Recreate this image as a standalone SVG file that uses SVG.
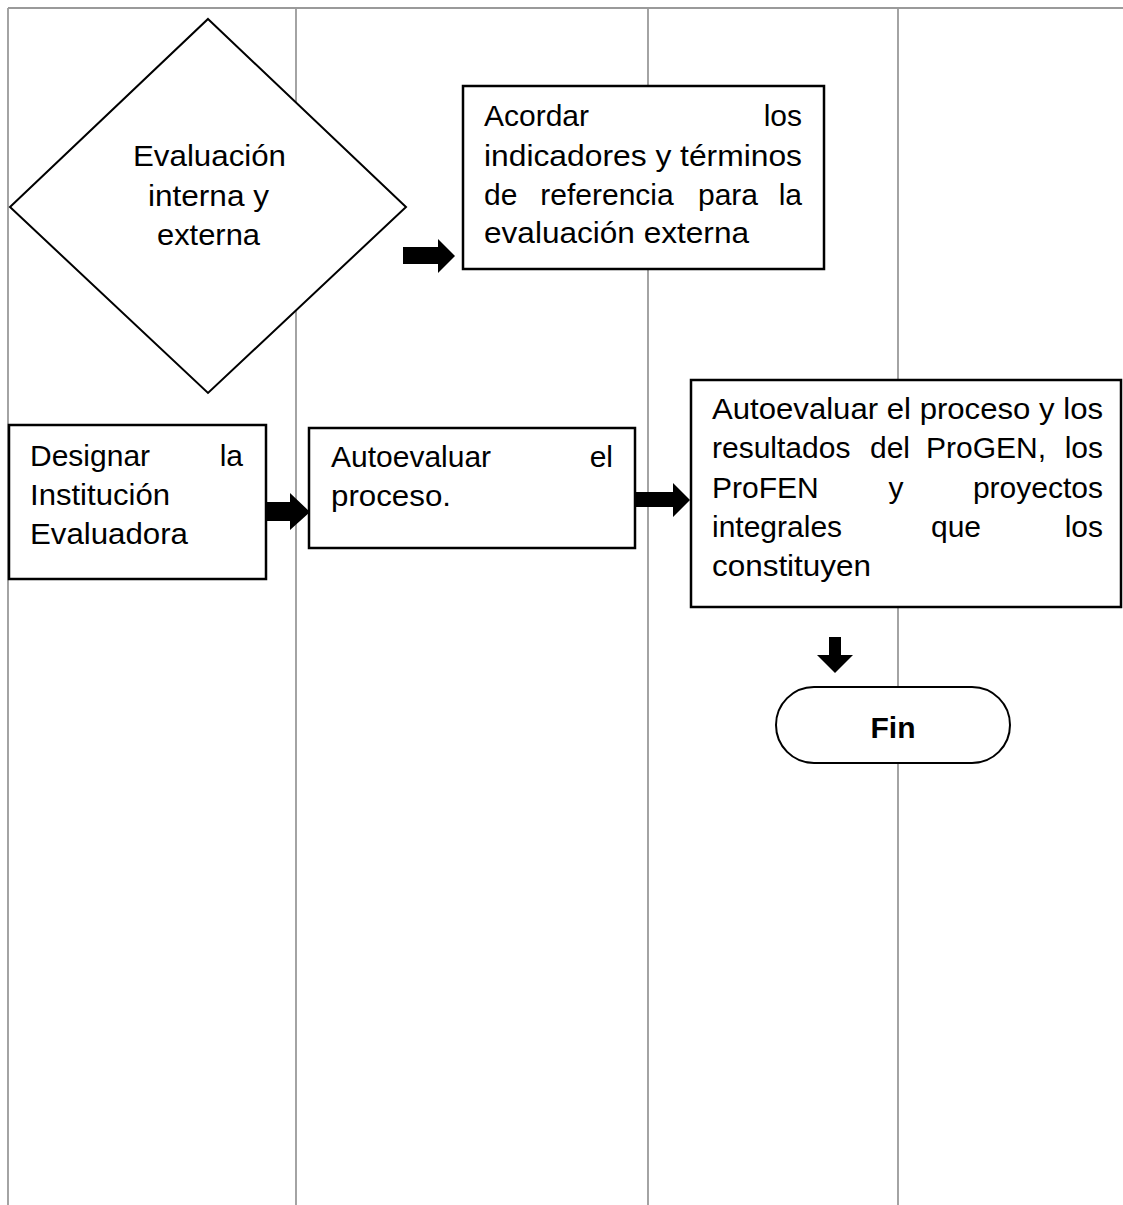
<svg xmlns="http://www.w3.org/2000/svg" width="1123" height="1205" viewBox="0 0 1123 1205">
<style>
.grid{stroke:#9a9a9a;stroke-width:1.8;fill:none}
.box{fill:#fff;stroke:#000;stroke-width:2.5}
.shape{fill:#fff;stroke:#000;stroke-width:2}
.t{font-family:"Liberation Sans",Arial,sans-serif;font-size:30px;fill:#000}
.b{font-weight:bold}
.arrow{fill:#000;stroke:none}
</style>
<rect x="0" y="0" width="1123" height="1205" fill="#fff"/>
<g id="lanes">
<line class="grid" x1="8" y1="8" x2="1123" y2="8"/>
<line class="grid" x1="8" y1="8" x2="8" y2="1205"/>
<line class="grid" x1="296" y1="8" x2="296" y2="1205"/>
<line class="grid" x1="648" y1="8" x2="648" y2="1205"/>
<line class="grid" x1="898" y1="8" x2="898" y2="1205"/>
</g>
<g id="connectors">
<polygon class="arrow" points="403,247 438,247 438,239 455,256 438,273 438,264 403,264"/>
<polygon class="arrow" points="266,502 290,502 290,493 310,512 290,530 290,521 266,521"/>
<polygon class="arrow" points="635,492 673,492 673,483 690,500 673,517 673,507 635,507"/>
<polygon class="arrow" points="829,637 841,637 841,655 853,655 835,673 817,655 829,655"/>
</g>
<g id="decision">
<polygon class="shape" points="208,19 406,207 208,393 10,207"/>
<text class="t" x="133" y="166" textLength="153" lengthAdjust="spacingAndGlyphs">Evaluación</text>
<text class="t" x="148" y="206" textLength="121" lengthAdjust="spacingAndGlyphs">interna y</text>
<text class="t" x="157" y="245" textLength="103" lengthAdjust="spacingAndGlyphs">externa</text>
</g>
<g id="acordar">
<rect class="box" x="463" y="86" width="361" height="183"/>
<text class="t" x="484" y="126">Acordar</text>
<text class="t" x="802" y="126" text-anchor="end">los</text>
<text class="t" x="484" y="166" textLength="318" lengthAdjust="spacingAndGlyphs">indicadores y términos</text>
<text class="t" x="484" y="205">de</text>
<text class="t" x="607" y="205" text-anchor="middle">referencia</text>
<text class="t" x="728" y="205" text-anchor="middle">para</text>
<text class="t" x="802" y="205" text-anchor="end">la</text>
<text class="t" x="484" y="243" textLength="265" lengthAdjust="spacingAndGlyphs">evaluación externa</text>
</g>
<g id="designar">
<rect class="box" x="9" y="425" width="257" height="154"/>
<text class="t" x="30" y="466">Designar</text>
<text class="t" x="243" y="466" text-anchor="end">la</text>
<text class="t" x="30" y="505" textLength="140" lengthAdjust="spacingAndGlyphs">Institución</text>
<text class="t" x="30" y="544" textLength="158" lengthAdjust="spacingAndGlyphs">Evaluadora</text>
</g>
<g id="autoevaluar1">
<rect class="box" x="309" y="428" width="326" height="120"/>
<text class="t" x="331" y="467">Autoevaluar</text>
<text class="t" x="613" y="467" text-anchor="end">el</text>
<text class="t" x="331" y="506" textLength="120" lengthAdjust="spacingAndGlyphs">proceso.</text>
</g>
<g id="autoevaluar2">
<rect class="box" x="691" y="380" width="430" height="227"/>
<text class="t" x="712" y="419" textLength="391" lengthAdjust="spacingAndGlyphs">Autoevaluar el proceso y los</text>
<text class="t" x="712" y="458">resultados</text>
<text class="t" x="890" y="458" text-anchor="middle">del</text>
<text class="t" x="986" y="458" text-anchor="middle">ProGEN,</text>
<text class="t" x="1103" y="458" text-anchor="end">los</text>
<text class="t" x="712" y="498">ProFEN</text>
<text class="t" x="896" y="498" text-anchor="middle">y</text>
<text class="t" x="1103" y="498" text-anchor="end">proyectos</text>
<text class="t" x="712" y="537">integrales</text>
<text class="t" x="956" y="537" text-anchor="middle">que</text>
<text class="t" x="1103" y="537" text-anchor="end">los</text>
<text class="t" x="712" y="576" textLength="159" lengthAdjust="spacingAndGlyphs">constituyen</text>
</g>
<g id="fin">
<rect class="shape" x="776" y="687" width="234" height="76" rx="38" ry="38"/>
<text class="t b" x="893" y="738" text-anchor="middle">Fin</text>
</g>
</svg>
